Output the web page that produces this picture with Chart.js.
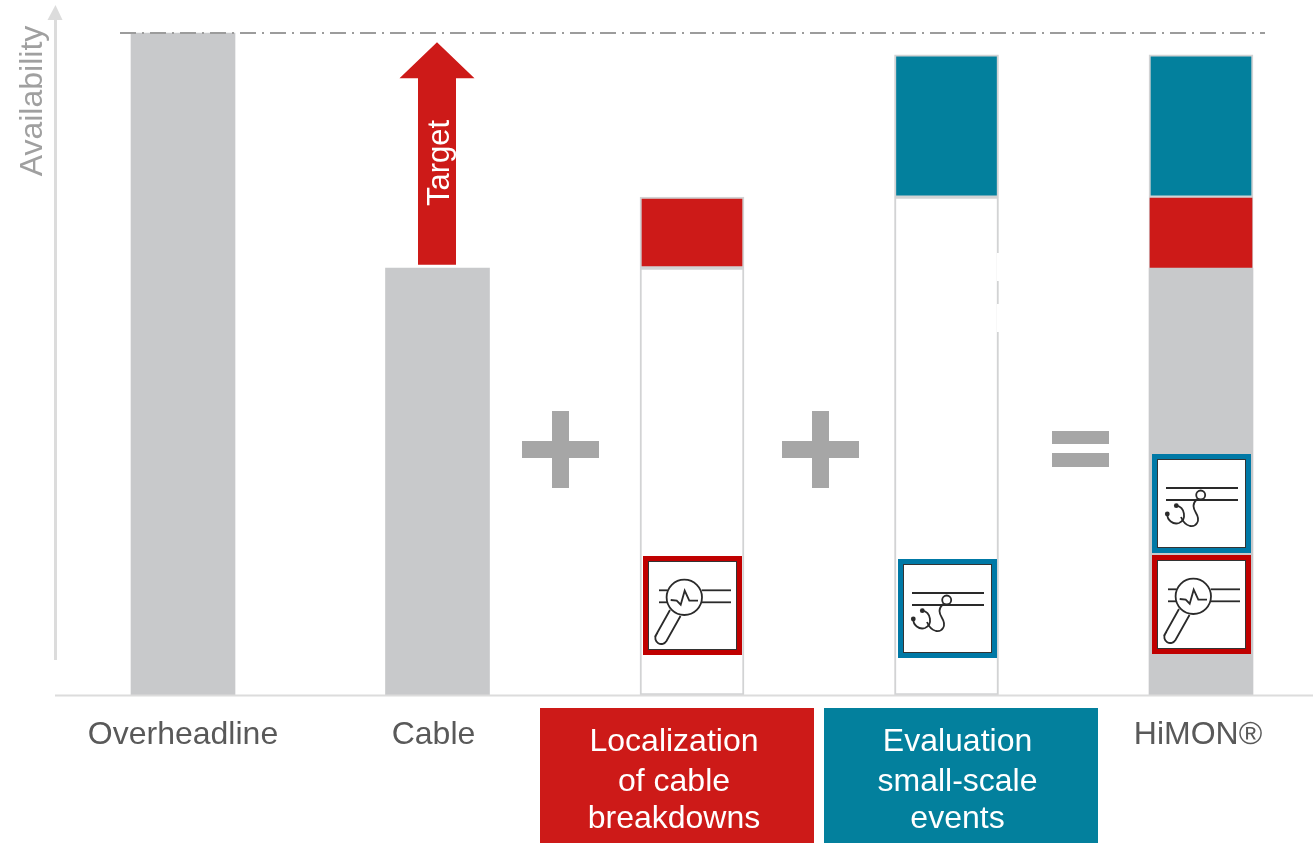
<!DOCTYPE html>
<html>
<head>
<meta charset="utf-8">
<title>Availability comparison</title>
<script src="https://cdn.jsdelivr.net/npm/chart.js@4"></script>
<style>
  html, body { margin: 0; padding: 0; background: #fff; overflow: hidden; }
  canvas { display: block; }
</style>
</head>
<body>
<canvas id="chart" width="1313" height="843"></canvas>
<script>
// Category names along the availability axis
const categories = ['Overheadline', 'Cable', 'Localization', 'Evaluation', 'HiMON®'];

// Availability contributions per column (stacked, top of the reference line = 100)
const conventional = [100, 64.5, null, null, 64.5];
const baselineGap  = [null, null, 64.5, 75.2, null];
const localization = [null, null, 10.7, null, 10.7];
const evaluation   = [null, null, null, 21.5, 21.5];

// Target arrow and reference line levels
const targetFrom = 65;
const targetTo = 98.6;
const referenceLevel = 100;

const RED = '#cd1a18';
const TEAL = '#03809d';
const GREY = '#c8c9cb';
const EDGE = '#d2d3d4';
const AXIS = '#dcdcdc';
const TEXT = '#595959';
const FONT = '"Liberation Sans", Arial, sans-serif';

// Category captions; the two middle ones sit on coloured panels
const captions = [
  { index: 0, lines: ['Overheadline'], nudge: 0, y: [735], color: TEXT },
  { index: 1, lines: ['Cable'], nudge: -4, y: [735], color: TEXT },
  { index: 2, lines: ['Localization', 'of cable', 'breakdowns'], nudge: -18, y: [742, 782, 819], color: '#fff' },
  { index: 3, lines: ['Evaluation', 'small-scale', 'events'], nudge: 11, y: [742, 782, 819], color: '#fff' },
  { index: 4, lines: ['HiMON®'], nudge: -3, y: [735], color: TEXT }
];

function framedIcon(ctx, x, y, color, drawGlyph) {
  ctx.save();
  ctx.translate(x, y);
  ctx.fillStyle = color;
  ctx.fillRect(0, 0, 99, 99);
  ctx.fillStyle = '#fff';
  ctx.fillRect(5, 5, 89, 89);
  ctx.strokeStyle = '#333';
  ctx.lineWidth = 1;
  ctx.strokeRect(5.5, 5.5, 88, 88);
  ctx.strokeStyle = '#2a2a2a';
  ctx.lineWidth = 1.8;
  drawGlyph(ctx);
  ctx.restore();
}

// Magnifier over a cable pair with a fault pulse
function magnifierGlyph(ctx) {
  const seg = (a, b, c, d) => { ctx.beginPath(); ctx.moveTo(a, b); ctx.lineTo(c, d); ctx.stroke(); };
  seg(16, 34.3, 24.5, 34.3);
  seg(16, 46.3, 24.5, 46.3);
  seg(58.7, 34.3, 88, 34.3);
  seg(58.7, 46.3, 88, 46.3);
  ctx.beginPath();
  ctx.arc(41.3, 41.3, 17.7, 0, Math.PI * 2);
  ctx.stroke();
  ctx.beginPath();
  ctx.moveTo(27.7, 44);
  ctx.lineTo(33.7, 44.7);
  ctx.lineTo(37.7, 48.7);
  ctx.lineTo(41.7, 34.7);
  ctx.lineTo(46.3, 44.7);
  ctx.lineTo(55, 44.7);
  ctx.stroke();
  ctx.beginPath();
  ctx.moveTo(27, 54);
  ctx.lineTo(13, 79);
  ctx.arc(18.3, 82, 6, Math.PI * 1.17, Math.PI * 0.17, true);
  ctx.lineTo(37.5, 60);
  ctx.stroke();
}

// Stethoscope listening on a cable pair
function stethoscopeGlyph(ctx) {
  ctx.beginPath(); ctx.moveTo(14, 34); ctx.lineTo(86, 34); ctx.stroke();
  ctx.beginPath(); ctx.moveTo(14, 46); ctx.lineTo(86, 46); ctx.stroke();
  ctx.beginPath();
  ctx.moveTo(45, 45);
  ctx.bezierCurveTo(40, 50, 41, 54, 44, 59);
  ctx.bezierCurveTo(49, 67, 44, 73, 38, 72);
  ctx.bezierCurveTo(34, 71, 31, 68, 29, 63);
  ctx.stroke();
  ctx.beginPath();
  ctx.moveTo(24.3, 51.7);
  ctx.bezierCurveTo(33, 53, 35, 66, 27, 69);
  ctx.bezierCurveTo(21, 71, 15, 66, 15.3, 60);
  ctx.stroke();
  ctx.beginPath();
  ctx.arc(48.7, 41, 4.5, 0, Math.PI * 2);
  ctx.fillStyle = '#fff';
  ctx.fill();
  ctx.stroke();
  ctx.fillStyle = '#2a2a2a';
  ctx.beginPath(); ctx.arc(24.3, 51.7, 2.4, 0, Math.PI * 2); ctx.fill();
  ctx.beginPath(); ctx.arc(15.3, 60, 2.4, 0, Math.PI * 2); ctx.fill();
}

const decorations = {
  id: 'decorations',
  afterDatasetsDraw(chart) {
    const { ctx, scales: { x, y } } = chart;
    ctx.save();

    // Horizontal baseline and the availability axis with its arrowhead
    ctx.fillStyle = AXIS;
    ctx.fillRect(55, y.getPixelForValue(0) - 0.5, 1258, 2);
    ctx.fillRect(54, 18, 3, 642);
    ctx.beginPath();
    ctx.moveTo(55.5, 5);
    ctx.lineTo(62.5, 20);
    ctx.lineTo(47.5, 20);
    ctx.closePath();
    ctx.fill();

    // Dash-dot reference line at the overhead-line level
    const refY = y.getPixelForValue(referenceLevel);
    ctx.strokeStyle = '#9c9c9c';
    ctx.lineWidth = 1.8;
    ctx.setLineDash([16, 6, 2, 6]);
    ctx.beginPath();
    ctx.moveTo(120, refY);
    ctx.lineTo(1265, refY);
    ctx.stroke();
    ctx.setLineDash([]);

    // Target arrow rising from the cable column
    const cx = x.getPixelForValue(1) - 0.5;
    const baseY = y.getPixelForValue(targetFrom);
    const tipY = y.getPixelForValue(targetTo);
    ctx.fillStyle = RED;
    ctx.beginPath();
    ctx.moveTo(cx, tipY);
    ctx.lineTo(cx + 37.5, tipY + 36);
    ctx.lineTo(cx + 19, tipY + 36);
    ctx.lineTo(cx + 19, baseY);
    ctx.lineTo(cx - 19, baseY);
    ctx.lineTo(cx - 19, tipY + 36);
    ctx.lineTo(cx - 37.5, tipY + 36);
    ctx.closePath();
    ctx.fill();

    // Small breaks in the right edge of the evaluation column
    ctx.fillStyle = '#fff';
    ctx.fillRect(997, 253, 2, 28);
    ctx.fillRect(997, 304, 2, 28);

    // Plus and equals operators between columns
    ctx.fillStyle = '#a6a6a6';
    [[522, 552], [782, 812]].forEach(([l, v]) => {
      ctx.fillRect(l, 441, 77, 17);
      ctx.fillRect(v, 411, 17, 77);
    });
    ctx.fillRect(1052, 431, 57, 13);
    ctx.fillRect(1052, 453, 57, 14);

    // Method icons inside the columns
    framedIcon(ctx, 643, 556, '#c00000', magnifierGlyph);
    framedIcon(ctx, 898, 559, '#0079a6', stethoscopeGlyph);
    framedIcon(ctx, 1152, 454, '#0079a6', stethoscopeGlyph);
    framedIcon(ctx, 1152, 555, '#c00000', magnifierGlyph);

    // Category captions and their panels
    ctx.fillStyle = RED;
    ctx.fillRect(540, 708, 274, 135);
    ctx.fillStyle = TEAL;
    ctx.fillRect(824, 708, 274, 135);
    ctx.font = '32px ' + FONT;
    ctx.textAlign = 'center';
    ctx.textBaseline = 'middle';
    captions.forEach(c => {
      const px = x.getPixelForValue(c.index) + c.nudge;
      ctx.fillStyle = c.color;
      c.lines.forEach((line, i) => ctx.fillText(line, px, c.y[i]));
    });

    // Rotated labels
    ctx.save();
    ctx.translate(33, 101);
    ctx.rotate(-Math.PI / 2);
    ctx.fillStyle = '#a0a0a0';
    ctx.fillText('Availability', 0, 0);
    ctx.restore();

    ctx.save();
    ctx.translate(cx + 3, 163);
    ctx.rotate(-Math.PI / 2);
    ctx.fillStyle = '#fff';
    ctx.font = '31px ' + FONT;
    ctx.fillText('Target', 0, 0);
    ctx.restore();

    ctx.restore();
  }
};

// The localization segment in the last column sits directly on the grey bar
const localizationBorder = [0, 0, 2, 0, { top: 1, left: 1, right: 1, bottom: 0 }];

new Chart(document.getElementById('chart'), {
  type: 'bar',
  data: {
    labels: categories,
    datasets: [
      { label: 'Conventional', data: conventional, backgroundColor: GREY, borderWidth: 0 },
      { label: 'Existing level', data: baselineGap, backgroundColor: '#fff', borderColor: EDGE, borderWidth: 2, borderSkipped: false },
      { label: 'Localization of cable breakdowns', data: localization, backgroundColor: RED, borderColor: EDGE, borderWidth: localizationBorder, borderSkipped: false },
      { label: 'Evaluation small-scale events', data: evaluation, backgroundColor: TEAL, borderColor: EDGE, borderWidth: 2, borderSkipped: false }
    ]
  },
  options: {
    responsive: false,
    animation: false,
    layout: { padding: { left: 183, right: 112, top: 33, bottom: 148 } },
    datasets: { bar: { barThickness: 104, clip: false } },
    scales: {
      x: { stacked: true, offset: false, grid: { display: false, drawTicks: false, offset: false }, border: { display: false }, ticks: { display: false } },
      y: { stacked: true, min: 0, max: 100, grid: { display: false, drawTicks: false }, border: { display: false }, ticks: { display: false } }
    },
    plugins: { legend: { display: false }, tooltip: { enabled: false } }
  },
  plugins: [decorations]
});
</script>
</body>
</html>
